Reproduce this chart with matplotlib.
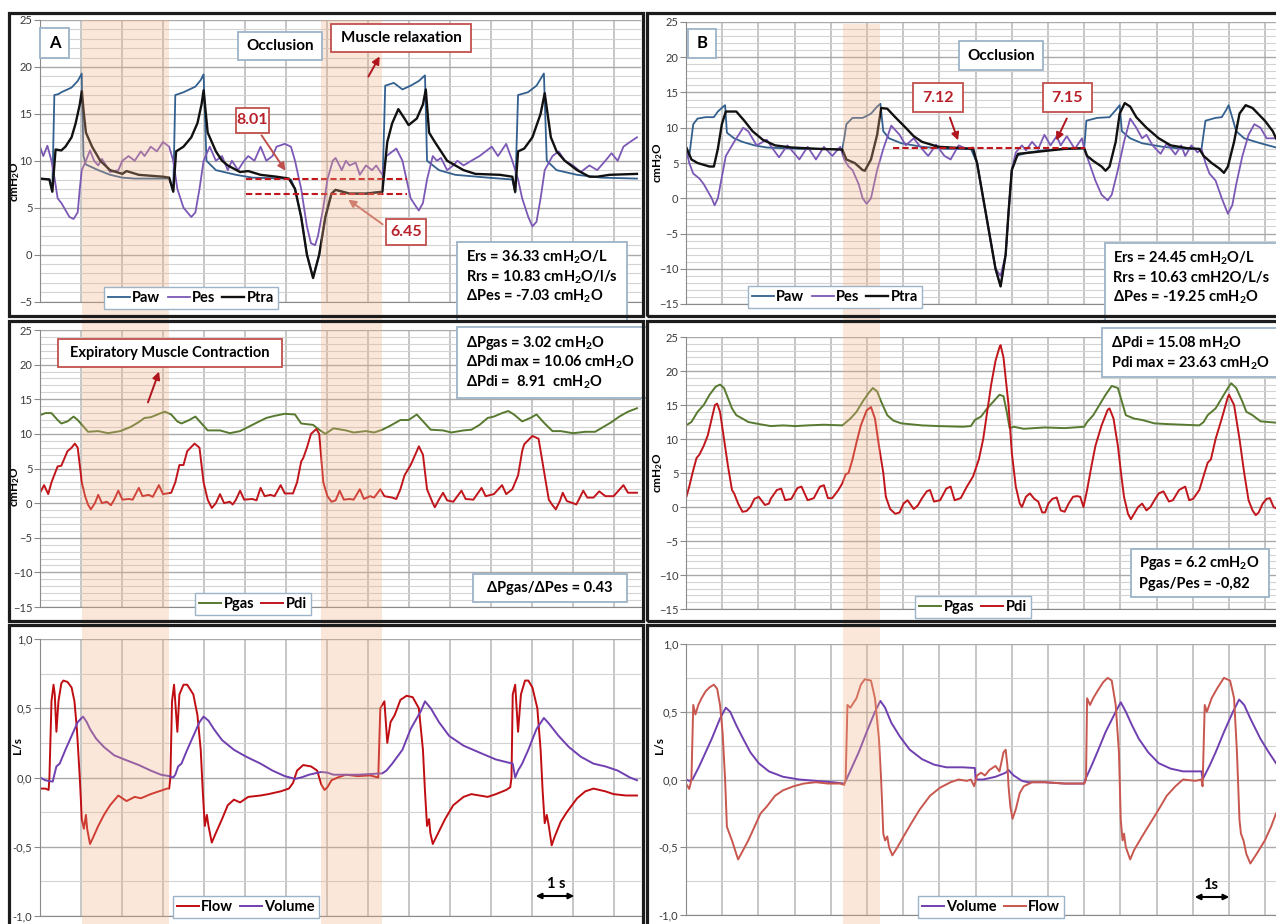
import numpy as np
import matplotlib
matplotlib.use("Agg")
import matplotlib.pyplot as plt
from matplotlib.patches import Rectangle, FancyArrowPatch
from matplotlib.ticker import MultipleLocator
from matplotlib.transforms import blended_transform_factory

plt.rcParams['font.family'] = ['Lato', 'DejaVu Sans']
plt.rcParams['mathtext.fontset'] = 'custom'
plt.rcParams['mathtext.rm'] = 'Lato:bold'
plt.rcParams['mathtext.bf'] = 'Lato:bold'
plt.rcParams['mathtext.it'] = 'Lato:bold'

# ---------------- data (time in s, pressure in cmH2O, flow in L/s) ----------------
# panel A, pressures
paw_a = [(0.00, 8.1), (0.23, 8.0), (0.30, 6.8), (0.35, 17.0), (0.45, 17.1), (0.52, 17.3), (0.77, 17.8),
         (0.92, 18.5), (1.02, 19.3), (1.06, 10.5), (1.12, 9.6), (1.42, 9.0), (1.71, 8.5), (2.01, 8.2),
         (2.31, 8.1), (3.15, 8.1), (3.20, 7.5), (3.25, 6.8), (3.30, 17.0), (3.50, 17.3), (3.79, 17.9),
         (3.92, 18.6), (3.99, 19.2), (4.06, 10.0), (4.29, 9.0), (4.78, 8.5), (5.18, 8.2), (5.97, 8.1),
         (6.12, 8.0), (6.22, 7.0), (6.37, 4.0), (6.51, 0.0), (6.66, -2.4), (6.81, 0.0), (6.96, 4.0),
         (7.11, 6.5), (7.21, 6.9), (7.55, 6.5), (7.95, 6.5), (8.35, 6.7), (8.42, 18.0), (8.63, 18.3),
         (8.84, 17.6), (9.04, 18.0), (9.24, 18.5), (9.39, 19.1), (9.44, 10.0), (9.73, 9.0), (10.13, 8.5),
         (10.92, 8.2), (11.52, 8.0), (11.59, 6.6), (11.66, 17.0), (11.90, 17.3), (12.11, 18.0),
         (12.29, 19.3), (12.36, 10.0), (12.60, 9.0), (13.10, 8.5), (13.69, 8.2), (14.56, 8.1)]

ptra_a = [(0.00, 8.1), (0.23, 8.0), (0.30, 6.7), (0.38, 11.2), (0.52, 11.1), (0.62, 11.5), (0.77, 12.5),
          (0.87, 14.0), (0.97, 16.0), (1.02, 17.4), (1.07, 15.0), (1.12, 13.0), (1.27, 11.5), (1.47, 10.0),
          (1.71, 9.0), (2.01, 8.6), (2.11, 8.9), (2.41, 8.5), (3.00, 8.3), (3.15, 8.2), (3.25, 6.7),
          (3.32, 11.0), (3.50, 11.5), (3.69, 12.5), (3.84, 14.0), (3.94, 16.0), (3.99, 17.5), (4.09, 13.0),
          (4.29, 11.0), (4.44, 10.0), (4.58, 9.5), (4.88, 8.8), (5.08, 8.9), (5.38, 8.5), (5.77, 8.3),
          (6.07, 8.1), (6.22, 7.0), (6.37, 4.0), (6.51, 0.0), (6.66, -2.5), (6.81, 0.0), (6.96, 4.0),
          (7.11, 6.5), (7.21, 6.9), (7.55, 6.5), (7.95, 6.5), (8.35, 6.7), (8.47, 12.0), (8.59, 14.0),
          (8.74, 15.5), (8.89, 14.5), (8.99, 13.8), (9.19, 14.5), (9.34, 16.0), (9.41, 17.6), (9.49, 13.0),
          (9.63, 12.0), (9.78, 11.0), (9.93, 10.0), (10.13, 9.5), (10.33, 9.0), (10.62, 8.6), (11.22, 8.5),
          (11.52, 8.3), (11.59, 6.7), (11.66, 11.0), (11.81, 11.3), (12.01, 12.5), (12.21, 15.0),
          (12.31, 17.2), (12.46, 12.5), (12.60, 11.0), (12.80, 10.0), (13.10, 9.0), (13.40, 8.3),
          (13.59, 8.3), (13.89, 8.5), (14.56, 8.6)]

pes_a = [(0.00, 11.5), (0.08, 10.5), (0.18, 11.6), (0.28, 10.0), (0.36, 8.0), (0.43, 6.0), (0.52, 5.5),
         (0.72, 4.0), (0.82, 3.8), (0.92, 4.5), (0.97, 7.0), (1.02, 9.0), (1.12, 10.0), (1.22, 11.1),
         (1.32, 10.0), (1.42, 9.5), (1.51, 10.2), (1.71, 8.8), (1.91, 9.0), (2.01, 10.0), (2.16, 10.5),
         (2.31, 10.0), (2.46, 11.0), (2.55, 10.5), (2.70, 11.5), (2.85, 11.0), (3.00, 12.0), (3.15, 11.5),
         (3.25, 10.0), (3.35, 7.0), (3.50, 5.0), (3.69, 4.0), (3.79, 4.5), (3.89, 7.0), (3.99, 10.0),
         (4.14, 11.5), (4.29, 10.0), (4.44, 10.5), (4.58, 9.0), (4.68, 10.0), (4.83, 9.0), (4.98, 10.0),
         (5.08, 10.5), (5.23, 10.0), (5.38, 11.5), (5.52, 10.0), (5.67, 10.5), (5.77, 11.5), (5.97, 11.8),
         (6.12, 11.5), (6.22, 10.0), (6.37, 7.0), (6.51, 3.0), (6.61, 1.2), (6.71, 1.0), (6.78, 2.0),
         (6.91, 5.0), (7.01, 8.0), (7.14, 10.0), (7.21, 10.3), (7.36, 9.0), (7.46, 10.0), (7.55, 9.5),
         (7.70, 9.8), (7.80, 8.5), (7.95, 9.5), (8.10, 9.0), (8.20, 9.5), (8.35, 8.5), (8.45, 10.5),
         (8.69, 11.3), (8.84, 10.0), (8.94, 8.0), (9.04, 6.0), (9.19, 5.0), (9.24, 4.7), (9.34, 5.5),
         (9.44, 8.0), (9.58, 10.5), (9.68, 10.0), (9.78, 10.3), (9.93, 9.0), (10.08, 9.5), (10.18, 10.0),
         (10.33, 9.5), (10.52, 10.0), (10.72, 10.5), (10.87, 11.0), (11.02, 11.5), (11.17, 10.5),
         (11.37, 11.8), (11.52, 10.0), (11.66, 8.0), (11.76, 6.0), (11.91, 4.0), (12.01, 3.0), (12.11, 3.5),
         (12.21, 6.0), (12.31, 9.0), (12.50, 10.5), (12.65, 11.0), (12.80, 10.0), (13.00, 9.5), (13.19, 8.8),
         (13.40, 9.5), (13.59, 9.0), (13.79, 10.0), (13.94, 10.8), (14.09, 10.0), (14.23, 11.5),
         (14.39, 12.0), (14.56, 12.5)]

pgas_a = [(0.00, 12.7), (0.13, 13.0), (0.28, 13.0), (0.43, 12.0), (0.52, 11.5), (0.67, 11.8), (0.82, 12.5),
          (0.92, 12.0), (1.07, 11.0), (1.17, 10.3), (1.42, 10.4), (1.66, 10.1), (1.96, 10.4), (2.21, 11.0),
          (2.41, 11.7), (2.55, 12.3), (2.70, 12.4), (2.95, 13.0), (3.05, 13.2), (3.20, 12.8), (3.35, 11.8),
          (3.45, 11.5), (3.64, 12.0), (3.79, 12.5), (3.94, 11.5), (4.09, 10.5), (4.39, 10.5), (4.63, 10.1),
          (4.88, 10.4), (5.08, 11.0), (5.28, 11.6), (5.52, 12.3), (5.72, 12.6), (5.97, 12.9), (6.22, 12.8),
          (6.37, 11.5), (6.66, 11.3), (6.81, 10.6), (6.96, 10.0), (7.16, 10.8), (7.46, 10.5), (7.65, 10.2),
          (7.95, 10.4), (8.15, 10.2), (8.35, 10.6), (8.55, 11.2), (8.79, 12.0), (8.99, 12.0), (9.19, 12.8),
          (9.39, 11.5), (9.53, 10.6), (9.83, 10.5), (10.03, 10.2), (10.33, 10.5), (10.52, 10.6),
          (10.72, 11.3), (10.92, 12.3), (11.07, 12.5), (11.27, 13.0), (11.42, 13.3), (11.56, 12.8),
          (11.76, 11.8), (11.96, 12.3), (12.11, 12.8), (12.31, 11.5), (12.50, 10.4), (12.70, 10.4),
          (13.00, 10.1), (13.30, 10.3), (13.54, 10.3), (13.74, 11.0), (13.94, 11.7), (14.13, 12.5),
          (14.34, 13.2), (14.56, 13.7)]

pdi_a = [(0.00, 1.5), (0.10, 2.6), (0.20, 1.3), (0.28, 3.0), (0.43, 5.3), (0.52, 5.4), (0.67, 7.5),
         (0.77, 8.0), (0.85, 8.6), (0.92, 8.0), (1.02, 3.0), (1.10, 1.0), (1.17, -0.2), (1.24, -0.9),
         (1.34, 0.0), (1.42, 1.2), (1.51, 0.0), (1.63, 0.2), (1.73, -0.3), (1.81, 0.5), (1.91, 1.8),
         (2.01, 0.5), (2.16, 0.6), (2.26, 0.5), (2.41, 2.2), (2.50, 1.0), (2.65, 1.2), (2.75, 0.9),
         (2.90, 2.6), (3.00, 1.3), (3.20, 1.5), (3.30, 3.0), (3.40, 5.5), (3.50, 5.5), (3.59, 7.5),
         (3.77, 8.6), (3.89, 8.0), (3.99, 3.0), (4.09, 0.5), (4.19, -0.7), (4.29, 0.0), (4.39, 1.3),
         (4.49, 0.0), (4.63, 0.2), (4.70, -0.2), (4.78, 0.5), (4.88, 1.8), (4.98, 0.5), (5.18, 0.6),
         (5.28, 0.4), (5.38, 2.2), (5.48, 1.0), (5.62, 1.2), (5.72, 1.0), (5.87, 2.6), (5.97, 1.4),
         (6.17, 1.4), (6.27, 3.0), (6.37, 6.0), (6.42, 6.5), (6.51, 8.0), (6.61, 10.0), (6.74, 10.7),
         (6.81, 10.0), (6.91, 3.0), (7.01, 1.0), (7.11, 0.2), (7.21, 0.4), (7.31, 1.8), (7.41, 0.5),
         (7.55, 0.6), (7.65, 0.5), (7.80, 2.0), (7.90, 0.6), (8.05, 1.0), (8.15, 0.8), (8.30, 2.0),
         (8.40, 1.0), (8.59, 0.8), (8.69, 0.6), (8.79, 2.0), (8.89, 4.0), (9.04, 5.5), (9.19, 7.5),
         (9.24, 8.2), (9.34, 7.0), (9.44, 2.0), (9.58, 0.0), (9.63, -0.6), (9.73, 0.5), (9.83, 1.5),
         (9.93, 0.4), (10.08, 0.2), (10.28, 1.8), (10.38, 0.6), (10.57, 0.5), (10.77, 2.2), (10.87, 1.0),
         (11.07, 1.3), (11.27, 2.6), (11.37, 1.3), (11.52, 2.0), (11.66, 4.0), (11.76, 7.5), (11.81, 8.5),
         (12.01, 9.7), (12.16, 9.3), (12.31, 4.0), (12.41, 0.5), (12.50, -0.3), (12.58, -0.9), (12.68, 0.3),
         (12.75, 1.5), (12.85, 0.3), (13.00, 0.0), (13.08, -0.2), (13.15, 0.6), (13.25, 1.8), (13.35, 0.8),
         (13.50, 0.8), (13.64, 1.7), (13.79, 1.0), (13.99, 1.0), (14.23, 2.6), (14.34, 1.5), (14.56, 1.5)]

flow_a = [(0.00, -0.08), (0.13, -0.08), (0.21, -0.09), (0.23, 0.0), (0.28, 0.55), (0.33, 0.67), (0.36, 0.60),
          (0.40, 0.33), (0.45, 0.55), (0.52, 0.68), (0.57, 0.70), (0.67, 0.69), (0.77, 0.65), (0.84, 0.55),
          (0.90, 0.35), (0.97, 0.0), (1.02, -0.30), (1.07, -0.37), (1.12, -0.27), (1.15, -0.37), (1.22, -0.48),
          (1.30, -0.43), (1.42, -0.35), (1.56, -0.27), (1.71, -0.20), (1.91, -0.13), (2.11, -0.17),
          (2.31, -0.14), (2.46, -0.15), (2.70, -0.12), (2.90, -0.10), (3.10, -0.08), (3.15, -0.08),
          (3.18, 0.0), (3.22, 0.55), (3.27, 0.67), (3.35, 0.33), (3.40, 0.60), (3.50, 0.67), (3.59, 0.67),
          (3.74, 0.60), (3.84, 0.45), (3.92, 0.20), (3.97, -0.10), (4.02, -0.35), (4.07, -0.27),
          (4.11, -0.35), (4.19, -0.47), (4.29, -0.40), (4.44, -0.30), (4.58, -0.20), (4.73, -0.16),
          (4.88, -0.18), (5.08, -0.14), (5.38, -0.13), (5.57, -0.12), (5.87, -0.10), (6.07, -0.08),
          (6.17, -0.04), (6.27, 0.05), (6.42, 0.09), (6.61, 0.08), (6.76, 0.05), (6.86, -0.05),
          (6.94, -0.09), (7.01, -0.07), (7.11, -0.02), (7.26, 0.0), (7.46, 0.02), (7.75, 0.01),
          (8.05, 0.015), (8.25, 0.0), (8.30, 0.50), (8.40, 0.55), (8.47, 0.25), (8.55, 0.40), (8.65, 0.45),
          (8.79, 0.56), (8.94, 0.59), (9.09, 0.58), (9.24, 0.50), (9.34, 0.20), (9.39, -0.10), (9.44, -0.35),
          (9.49, -0.30), (9.52, -0.40), (9.58, -0.48), (9.68, -0.42), (9.88, -0.30), (10.08, -0.20),
          (10.33, -0.14), (10.52, -0.12), (10.72, -0.13), (10.92, -0.14), (11.12, -0.12), (11.37, -0.09),
          (11.47, -0.07), (11.50, 0.0), (11.53, 0.60), (11.59, 0.67), (11.66, 0.33), (11.73, 0.60),
          (11.83, 0.70), (11.91, 0.70), (12.01, 0.65), (12.13, 0.50), (12.21, 0.20), (12.26, -0.10),
          (12.31, -0.33), (12.36, -0.27), (12.41, -0.35), (12.48, -0.49), (12.55, -0.43), (12.70, -0.32),
          (12.85, -0.25), (13.10, -0.15), (13.30, -0.10), (13.50, -0.08), (13.79, -0.10), (13.99, -0.12),
          (14.29, -0.13), (14.56, -0.13)]

volume_a = [(0.00, 0.0), (0.13, -0.02), (0.31, -0.03), (0.35, 0.02), (0.40, 0.08), (0.48, 0.10), (0.62, 0.20),
            (0.77, 0.30), (0.92, 0.40), (1.05, 0.44), (1.14, 0.40), (1.22, 0.35), (1.37, 0.28), (1.56, 0.22),
            (1.81, 0.16), (2.06, 0.13), (2.41, 0.09), (2.70, 0.05), (2.95, 0.02), (3.15, 0.01), (3.25, 0.0),
            (3.30, 0.02), (3.37, 0.08), (3.45, 0.10), (3.59, 0.20), (3.74, 0.30), (3.89, 0.40), (3.99, 0.44),
            (4.11, 0.41), (4.24, 0.35), (4.44, 0.27), (4.73, 0.20), (5.03, 0.15), (5.38, 0.10), (5.67, 0.05),
            (5.97, 0.01), (6.22, -0.01), (6.37, 0.0), (6.56, 0.02), (6.86, 0.04), (7.01, 0.035), (7.16, 0.02),
            (7.75, 0.02), (8.35, 0.03), (8.45, 0.05), (8.59, 0.10), (8.84, 0.20), (9.04, 0.35), (9.29, 0.48),
            (9.39, 0.55), (9.53, 0.50), (9.73, 0.40), (9.98, 0.30), (10.33, 0.23), (10.72, 0.18),
            (11.12, 0.13), (11.53, 0.10), (11.59, 0.0), (11.66, 0.05), (11.76, 0.10), (11.91, 0.20),
            (12.11, 0.35), (12.29, 0.43), (12.41, 0.39), (12.65, 0.30), (12.90, 0.22), (13.19, 0.15),
            (13.50, 0.10), (13.79, 0.08), (14.09, 0.05), (14.39, 0.0), (14.56, -0.02)]

# panel B, pressures
paw_b = [(0.00, 7.2), (0.09, 6.0), (0.20, 10.5), (0.32, 11.3), (0.54, 11.5), (0.77, 11.5), (0.88, 12.3),
         (1.03, 13.0), (1.08, 13.2), (1.13, 9.3), (1.33, 8.5), (1.56, 8.0), (1.89, 7.5), (2.23, 7.2),
         (3.13, 7.0), (4.32, 7.0), (4.37, 8.5), (4.43, 10.5), (4.60, 11.4), (4.88, 11.4), (5.11, 12.0),
         (5.28, 13.0), (5.37, 13.4), (5.45, 9.5), (5.61, 8.5), (5.95, 7.8), (6.52, 7.3), (7.19, 7.0),
         (7.87, 7.0), (8.04, 5.0), (8.21, 0.0), (8.38, -5.0), (8.55, -10.0), (8.69, -12.5), (8.83, -8.0),
         (8.91, -2.0), (9.00, 4.0), (9.11, 6.0), (9.45, 6.5), (9.90, 6.8), (10.35, 7.0), (11.00, 7.1),
         (11.06, 11.0), (11.36, 11.4), (11.70, 11.5), (11.87, 12.5), (11.98, 13.2), (12.04, 9.5),
         (12.27, 8.5), (12.60, 7.8), (13.17, 7.3), (13.73, 7.0), (14.24, 7.0), (14.35, 11.0), (14.63, 11.4),
         (14.80, 11.5), (14.92, 12.5), (14.99, 13.2), (15.20, 9.5), (15.42, 8.5), (15.87, 7.8), (16.30, 7.2)]

ptra_b = [(0.00, 7.3), (0.15, 5.5), (0.32, 5.0), (0.65, 4.5), (0.77, 4.5), (0.88, 7.0), (0.99, 10.5),
          (1.10, 12.3), (1.39, 12.3), (1.61, 11.0), (1.84, 9.5), (2.12, 8.3), (2.46, 7.5), (2.91, 7.2),
          (3.70, 7.0), (4.32, 6.9), (4.43, 5.5), (4.66, 5.0), (4.88, 4.0), (4.94, 3.9), (5.11, 5.5),
          (5.28, 9.0), (5.39, 12.8), (5.56, 12.7), (5.78, 11.5), (6.07, 10.0), (6.29, 8.8), (6.52, 8.0),
          (6.97, 7.3), (7.64, 7.1), (7.93, 7.0), (8.04, 5.0), (8.21, 0.0), (8.38, -5.0), (8.55, -10.0),
          (8.69, -12.5), (8.83, -8.0), (8.91, -2.0), (9.00, 4.0), (9.17, 6.3), (9.56, 6.5), (9.90, 6.7),
          (10.46, 7.0), (11.00, 7.1), (11.08, 6.0), (11.25, 5.3), (11.48, 4.5), (11.59, 3.9), (11.70, 4.5),
          (11.87, 8.0), (11.98, 12.0), (12.12, 13.5), (12.27, 13.0), (12.44, 11.5), (12.72, 10.0),
          (13.06, 8.5), (13.39, 7.5), (13.85, 7.1), (14.18, 7.0), (14.30, 6.0), (14.52, 5.0), (14.74, 4.2),
          (14.86, 3.6), (14.97, 4.5), (15.14, 8.0), (15.29, 12.0), (15.46, 13.2), (15.65, 12.8),
          (15.99, 11.0), (16.21, 9.5), (16.30, 8.5)]

pes_b = [(0.00, 7.0), (0.09, 5.0), (0.20, 3.5), (0.37, 2.8), (0.49, 2.0), (0.71, 0.0), (0.79, -1.0),
         (0.88, 0.0), (0.99, 3.0), (1.10, 6.0), (1.33, 8.0), (1.58, 10.0), (1.72, 9.5), (1.95, 7.5),
         (2.23, 8.3), (2.40, 7.0), (2.57, 5.8), (2.80, 7.5), (2.97, 6.5), (3.13, 5.5), (3.36, 7.3),
         (3.59, 5.5), (3.81, 7.3), (4.04, 6.0), (4.26, 7.3), (4.37, 5.5), (4.49, 4.5), (4.60, 4.0),
         (4.77, 2.0), (4.88, 0.0), (4.99, -0.8), (5.11, 0.0), (5.28, 4.0), (5.45, 7.0), (5.67, 10.3),
         (5.90, 9.0), (6.07, 7.5), (6.29, 8.5), (6.52, 7.0), (6.69, 6.0), (6.91, 7.6), (7.14, 6.0),
         (7.31, 5.5), (7.53, 7.5), (7.76, 7.0), (7.93, 7.2), (8.04, 5.0), (8.21, 0.0), (8.38, -5.0),
         (8.55, -10.0), (8.69, -11.0), (8.83, -8.0), (8.91, -2.0), (9.00, 4.0), (9.11, 6.5), (9.28, 7.5),
         (9.39, 6.8), (9.56, 8.0), (9.73, 7.0), (9.90, 9.0), (10.07, 7.5), (10.24, 8.8), (10.35, 7.5),
         (10.52, 8.8), (10.74, 7.0), (10.94, 8.5), (11.00, 7.0), (11.14, 5.0), (11.31, 2.5), (11.48, 0.5),
         (11.65, -0.3), (11.76, 0.5), (11.93, 4.0), (12.10, 8.0), (12.27, 11.3), (12.44, 10.0),
         (12.60, 8.5), (12.72, 9.0), (12.89, 7.5), (13.11, 6.3), (13.28, 7.8), (13.52, 6.2), (13.68, 7.5),
         (13.79, 6.0), (13.96, 7.5), (14.13, 6.5), (14.24, 7.0), (14.35, 5.0), (14.46, 3.5), (14.63, 2.5),
         (14.80, 0.0), (14.97, -2.2), (15.09, -1.0), (15.20, 2.0), (15.37, 6.0), (15.54, 9.0),
         (15.70, 10.5), (15.87, 10.0), (16.04, 8.5), (16.30, 8.5)]

pgas_b = [(0.00, 12.0), (0.15, 12.5), (0.32, 14.0), (0.49, 15.0), (0.65, 16.5), (0.82, 17.7), (0.94, 18.0),
          (1.05, 17.5), (1.16, 16.0), (1.27, 14.5), (1.39, 13.5), (1.56, 13.0), (1.72, 12.5), (2.01, 12.2),
          (2.34, 11.9), (2.68, 12.0), (3.02, 11.9), (3.36, 12.0), (3.81, 12.1), (4.32, 12.0), (4.43, 12.5),
          (4.54, 13.0), (4.71, 14.0), (4.88, 15.5), (5.05, 16.8), (5.16, 17.5), (5.28, 17.0), (5.39, 15.5),
          (5.56, 13.5), (5.73, 12.7), (5.95, 12.3), (6.52, 12.0), (6.97, 11.9), (7.64, 11.8), (7.87, 11.9),
          (7.98, 12.8), (8.15, 13.3), (8.32, 14.5), (8.49, 15.5), (8.66, 16.5), (8.77, 16.3), (8.86, 14.0),
          (8.94, 11.6), (9.05, 11.8), (9.33, 11.5), (9.90, 11.7), (10.46, 11.6), (11.00, 11.8),
          (11.08, 12.5), (11.25, 13.5), (11.42, 15.0), (11.59, 16.5), (11.76, 17.8), (11.93, 17.5),
          (12.04, 15.5), (12.15, 13.5), (12.38, 13.0), (12.60, 12.8), (12.94, 12.3), (13.28, 12.2),
          (13.73, 12.1), (14.18, 12.0), (14.30, 12.5), (14.41, 13.5), (14.63, 14.5), (14.80, 16.0),
          (14.97, 17.5), (15.06, 18.2), (15.20, 17.5), (15.37, 15.5), (15.48, 14.0), (15.65, 13.5),
          (15.87, 12.6), (16.30, 12.4)]

pdi_b = [(0.00, 1.3), (0.09, 3.0), (0.18, 5.0), (0.29, 7.2), (0.37, 7.7), (0.49, 9.0), (0.60, 10.5),
         (0.71, 13.0), (0.80, 15.0), (0.86, 15.2), (0.94, 14.0), (1.05, 10.0), (1.16, 6.0), (1.27, 2.5),
         (1.33, 2.0), (1.44, 0.5), (1.56, -0.7), (1.67, -0.6), (1.78, 0.0), (1.89, 1.2), (2.01, 1.5),
         (2.18, 0.3), (2.29, 0.5), (2.34, 1.2), (2.51, 2.5), (2.63, 2.7), (2.74, 1.0), (2.91, 1.2),
         (3.08, 2.8), (3.19, 3.0), (3.36, 1.0), (3.53, 1.3), (3.70, 3.0), (3.81, 3.2), (3.92, 1.3),
         (4.04, 1.3), (4.21, 2.5), (4.32, 3.5), (4.41, 4.8), (4.49, 5.0), (4.60, 7.0), (4.71, 9.5),
         (4.83, 12.0), (4.99, 14.2), (5.11, 14.7), (5.22, 13.0), (5.33, 9.0), (5.45, 5.0), (5.52, 1.5),
         (5.64, -0.3), (5.78, -1.0), (5.90, -0.8), (6.01, 0.5), (6.12, 1.0), (6.29, -0.3), (6.40, 0.2),
         (6.52, 1.3), (6.65, 2.3), (6.74, 2.5), (6.85, 0.8), (7.02, 1.0), (7.19, 2.7), (7.31, 3.0),
         (7.42, 1.0), (7.59, 1.3), (7.76, 3.0), (7.93, 4.5), (8.09, 7.0), (8.21, 10.0), (8.32, 14.0),
         (8.43, 18.0), (8.55, 21.5), (8.66, 23.5), (8.69, 23.8), (8.77, 22.0), (8.91, 15.0), (9.00, 8.0),
         (9.11, 3.0), (9.22, 0.5), (9.28, 0.0), (9.39, 1.5), (9.50, 2.0), (9.62, 1.2), (9.73, 0.8),
         (9.84, -0.8), (9.92, -0.8), (10.01, 0.5), (10.12, 1.2), (10.24, 1.4), (10.35, -0.5), (10.46, -0.7),
         (10.57, 0.5), (10.69, 1.5), (10.80, 1.6), (10.89, 1.5), (10.98, 0.0), (11.08, 2.5), (11.20, 6.0),
         (11.31, 9.0), (11.48, 12.0), (11.65, 14.3), (11.70, 14.5), (11.81, 13.0), (11.93, 9.0),
         (12.04, 4.0), (12.10, 1.5), (12.21, -1.0), (12.29, -1.8), (12.38, -1.0), (12.49, 0.0),
         (12.60, 0.5), (12.72, -0.5), (12.83, 0.0), (12.94, 1.0), (13.06, 2.0), (13.19, 2.3), (13.34, 0.8),
         (13.45, 1.0), (13.62, 2.5), (13.79, 3.0), (13.90, 1.0), (14.01, 1.2), (14.18, 2.5), (14.41, 6.5),
         (14.50, 7.0), (14.63, 10.0), (14.80, 13.0), (14.97, 16.2), (15.00, 16.5), (15.14, 15.0),
         (15.29, 10.0), (15.42, 5.0), (15.54, 1.0), (15.65, -0.5), (15.74, -1.2), (15.82, -0.8),
         (15.93, 0.5), (16.04, 1.2), (16.13, 1.3), (16.23, 0.0), (16.30, -0.2)]

volume_b = [(0.00, 0.0), (0.09, -0.01), (0.18, 0.0), (0.37, 0.10), (0.54, 0.20), (0.71, 0.30), (0.94, 0.45),
            (1.10, 0.53), (1.22, 0.50), (1.39, 0.40), (1.58, 0.30), (1.78, 0.20), (2.01, 0.12), (2.29, 0.06),
            (2.68, 0.02), (3.13, 0.0), (3.59, -0.01), (4.04, -0.02), (4.37, -0.03), (4.43, 0.0), (4.60, 0.10),
            (4.77, 0.20), (4.99, 0.35), (5.22, 0.50), (5.37, 0.58), (5.50, 0.53), (5.67, 0.42), (5.90, 0.32),
            (6.18, 0.22), (6.52, 0.15), (6.85, 0.11), (7.19, 0.09), (7.64, 0.09), (7.98, 0.085), (8.00, 0.0),
            (8.21, 0.0), (8.55, 0.02), (8.83, 0.05), (8.91, 0.07), (9.05, 0.03), (9.28, -0.01), (9.45, -0.02),
            (9.90, -0.02), (10.46, -0.03), (11.00, -0.03), (11.03, 0.0), (11.20, 0.10), (11.36, 0.20),
            (11.59, 0.35), (11.87, 0.50), (12.01, 0.57), (12.15, 0.50), (12.32, 0.40), (12.51, 0.30),
            (12.77, 0.20), (13.06, 0.12), (13.39, 0.08), (13.73, 0.06), (14.24, 0.06), (14.27, 0.0),
            (14.46, 0.10), (14.63, 0.20), (14.86, 0.35), (15.11, 0.50), (15.28, 0.59), (15.42, 0.55),
            (15.59, 0.45), (15.87, 0.30), (16.10, 0.20), (16.30, 0.12)]

flow_b = [(0.00, -0.03), (0.09, -0.07), (0.15, 0.0), (0.20, 0.55), (0.26, 0.48), (0.34, 0.55), (0.43, 0.60),
          (0.54, 0.65), (0.65, 0.68), (0.77, 0.70), (0.86, 0.67), (0.94, 0.55), (1.01, 0.35), (1.08, 0.0),
          (1.13, -0.35), (1.20, -0.40), (1.27, -0.45), (1.39, -0.55), (1.44, -0.59), (1.56, -0.53),
          (1.72, -0.45), (1.89, -0.35), (2.06, -0.25), (2.23, -0.20), (2.46, -0.12), (2.68, -0.08),
          (2.97, -0.05), (3.25, -0.03), (3.59, -0.02), (3.92, -0.03), (4.26, -0.03), (4.37, -0.04),
          (4.41, 0.0), (4.46, 0.55), (4.54, 0.53), (4.71, 0.60), (4.83, 0.70), (4.94, 0.74), (5.11, 0.73),
          (5.22, 0.60), (5.33, 0.30), (5.39, 0.0), (5.45, -0.40), (5.50, -0.45), (5.56, -0.42), (5.61, -0.50),
          (5.70, -0.56), (5.84, -0.50), (6.01, -0.42), (6.23, -0.32), (6.46, -0.22), (6.74, -0.12),
          (7.02, -0.06), (7.31, -0.02), (7.53, 0.0), (7.76, -0.01), (7.87, 0.0), (7.96, -0.05), (8.04, 0.03),
          (8.15, 0.05), (8.26, 0.03), (8.38, 0.07), (8.55, 0.10), (8.66, 0.06), (8.77, 0.20), (8.83, 0.22),
          (8.88, 0.10), (8.91, -0.05), (8.96, -0.20), (9.02, -0.29), (9.11, -0.22), (9.22, -0.10),
          (9.33, -0.05), (9.56, -0.02), (9.90, -0.02), (10.46, -0.03), (11.00, -0.03), (11.05, 0.0),
          (11.08, 0.60), (11.16, 0.55), (11.25, 0.60), (11.36, 0.65), (11.53, 0.72), (11.65, 0.75),
          (11.76, 0.73), (11.87, 0.55), (11.96, 0.20), (12.01, -0.30), (12.06, -0.45), (12.10, -0.40),
          (12.15, -0.50), (12.27, -0.59), (12.38, -0.52), (12.60, -0.42), (12.83, -0.32), (13.06, -0.22),
          (13.28, -0.12), (13.52, -0.05), (13.73, 0.0), (14.07, -0.01), (14.24, 0.0), (14.27, -0.05),
          (14.33, 0.55), (14.39, 0.50), (14.52, 0.60), (14.69, 0.68), (14.86, 0.75), (15.03, 0.73),
          (15.14, 0.60), (15.22, 0.20), (15.29, -0.30), (15.33, -0.40), (15.40, -0.45), (15.48, -0.55),
          (15.59, -0.62), (15.76, -0.55), (15.99, -0.45), (16.16, -0.35), (16.30, -0.25)]

# shaded occlusion windows (s) and reference levels (value, t_start, t_end)
bands_a = [(1.02, 3.15), (6.86, 8.35)]
bands_b = [(4.35, 5.37)]
levels_a = [(8.01, 5.03, 8.94), (6.45, 5.03, 8.94)]
levels_b = [(7.12, 5.73, 11.03)]

flow_ticks = [-1.0, -0.5, 0.0, 0.5, 1.0]
flow_ticklabels = ['-1,0', '-0,5', '0,0', '0,5', '1,0']

C_PAW = '#33608f'
C_PES = '#7c58b6'
C_PTRA = '#111111'
C_PGAS = '#587a30'
C_PDI = '#c0161c'
C_FLOW_A = '#c00d12'
C_FLOW_B = '#c8574f'
C_VOL = '#7040b0'
C_BOX = '#9db3c8'
C_RED = '#b8202a'
C_BAND = '#f4b183'

# ---------------- figure ----------------
W, H = 1276, 924
fig = plt.figure(figsize=(W / 100, H / 100), dpi=100)


def rect(x0, y0, x1, y1):
    return [x0 / W, 1 - y1 / H, (x1 - x0) / W, (y1 - y0) / H]


def pt(x, y):
    return (x / W, 1 - y / H)


def make_axes(x0, y0, x1, y1, xmax, ylim, major, minor):
    ax = fig.add_axes(rect(x0, y0, x1, y1))
    ax.set_facecolor('none')
    ax.set_xlim(0, xmax)
    ax.set_ylim(*ylim)
    ax.xaxis.set_major_locator(MultipleLocator(1))
    ax.yaxis.set_major_locator(MultipleLocator(major))
    ax.yaxis.set_minor_locator(MultipleLocator(minor))
    ax.grid(True, which='major', axis='x', color='#c2c2c2', lw=1.3)
    ax.grid(True, which='major', axis='y', color='#a9a9a9', lw=1.0)
    ax.grid(True, which='minor', axis='y', color='#d3d3d3', lw=0.8)
    ax.tick_params(axis='x', length=0, labelbottom=False)
    ax.tick_params(axis='y', which='major', length=4, color='#8a8a8a', labelsize=8,
                   labelcolor='#3a3a3a', pad=1.5)
    ax.tick_params(axis='y', which='minor', length=0)
    for s in ['top', 'right']:
        ax.spines[s].set_visible(False)
    for s in ['left', 'bottom']:
        ax.spines[s].set_color('#8a8a8a')
    ax.set_axisbelow(True)
    return ax


def trace(ax, data, color, lw=1.4, label=None):
    d = np.array(data)
    return ax.plot(d[:, 0], d[:, 1], color=color, lw=lw, label=label, solid_joinstyle='round')[0]


def box(x0, y0, x1, y1, ec=C_BOX, lw=1.3):
    fig.add_artist(Rectangle(pt(x0, y1), (x1 - x0) / W, (y1 - y0) / H, transform=fig.transFigure,
                             fc='white', ec=ec, lw=lw, zorder=3))


def txt(x, y, s, size=10.5, color='black', ha='left', **kw):
    fig.text(*pt(x, y), s, fontsize=size, color=color, ha=ha, va='center', weight='bold', zorder=4, **kw)


def arrow(p0, p1, color=C_RED, style='-|>', lw=1.4, ms=11):
    fig.add_artist(FancyArrowPatch(pt(*p0), pt(*p1), transform=fig.transFigure, arrowstyle=style,
                                   mutation_scale=ms, color=color, lw=lw, zorder=5))


def legend(handles, cx, cy):
    fig.legend(handles=handles, labels=[h.get_label() for h in handles], loc='center',
               bbox_to_anchor=pt(cx, cy), ncol=len(handles), frameon=True, fancybox=False,
               edgecolor=C_BOX, framealpha=1, handlelength=1.5, handletextpad=0.15,
               columnspacing=0.5, borderpad=0.3, prop={'weight': 'bold', 'size': 10.5})


def bands(ax, spans, ytop):
    tr = blended_transform_factory(ax.transData, fig.transFigure)
    for t0, t1 in spans:
        fig.add_artist(Rectangle((t0, 0), t1 - t0, 1 - ytop / H, transform=tr, fc=C_BAND,
                                 ec='none', alpha=0.3, zorder=1))


XA = (641 - 40) / 41.0
XB = (1276 - 686) / 36.2

# ---- column A ----
a1 = make_axes(40, 20, 641, 301.5, XA, (-5, 25), 5, 1)
a2 = make_axes(40, 330, 641, 607, XA, (-15, 25), 5, 1)
a3 = make_axes(40, 639, 641, 916, XA, (-1, 1), 0.5, 0.25)
h_paw = trace(a1, paw_a, C_PAW, 1.3, 'Paw')
h_pes = trace(a1, pes_a, C_PES, 1.3, 'Pes')
h_ptra = trace(a1, ptra_a, C_PTRA, 1.7, 'Ptra')
for v, t0, t1 in levels_a:
    a1.plot([t0, t1], [v, v], color=C_PDI, lw=1.5, ls=(0, (3, 1.5)))
h_pgas = trace(a2, pgas_a, C_PGAS, 1.4, 'Pgas')
h_pdi = trace(a2, pdi_a, C_PDI, 1.4, 'Pdi')
h_flow = trace(a3, flow_a, C_FLOW_A, 1.4, 'Flow')
h_vol = trace(a3, volume_a, C_VOL, 1.4, 'Volume')
a3.set_yticks(flow_ticks)
a3.set_yticklabels(flow_ticklabels)
bands(a1, bands_a, 20)

legend([h_paw, h_pes, h_ptra], 191, 298)
legend([h_pgas, h_pdi], 253, 604)
legend([h_flow, h_vol], 246, 907)

# ---- column B ----
b1 = make_axes(686, 22, 1276, 304, XB, (-15, 25), 5, 1)
b2 = make_axes(686, 337, 1276, 609, XB, (-15, 25), 5, 1)
b3 = make_axes(686, 644, 1276, 915, XB, (-1, 1), 0.5, 0.25)
g_paw = trace(b1, paw_b, C_PAW, 1.3, 'Paw')
g_pes = trace(b1, pes_b, C_PES, 1.3, 'Pes')
g_ptra = trace(b1, ptra_b, C_PTRA, 1.7, 'Ptra')
for v, t0, t1 in levels_b:
    b1.plot([t0, t1], [v, v], color=C_PDI, lw=1.5, ls=(0, (3, 1.5)))
g_pgas = trace(b2, pgas_b, C_PGAS, 1.4, 'Pgas')
g_pdi = trace(b2, pdi_b, C_PDI, 1.4, 'Pdi')
g_vol = trace(b3, volume_b, C_VOL, 1.4, 'Volume')
g_flow = trace(b3, flow_b, C_FLOW_B, 1.4, 'Flow')
b3.set_yticks(flow_ticks)
b3.set_yticklabels(flow_ticklabels)
bands(b1, bands_b, 24)

legend([g_paw, g_pes, g_ptra], 835, 297)
legend([g_pgas, g_pdi], 973, 607)
legend([g_vol, g_flow], 991, 907)

# ---- y labels ----
for x, y, s in [(15, 182, 'cmH$_2$O'), (15, 487, 'cmH$_2$O'), (18, 745, 'L/s'),
                (658, 163, 'cmH$_2$O'), (658, 473, 'cmH$_2$O'), (660, 745, 'L/s')]:
    fig.text(*pt(x, y), s, rotation=90, ha='center', va='center', fontsize=8.5, weight='bold')

# ---- annotation boxes, panel A ----
box(40, 28, 69, 58)
txt(54.5, 43, 'A', 12, ha='center')
box(238, 32, 322, 60)
txt(280, 46, 'Occlusion', 11, ha='center')
box(331, 24, 471, 52, ec='#c0504d')
txt(401, 38, 'Muscle relaxation', 11, ha='center')
arrow((367, 79), (381, 54), color='#b0141c')
box(236, 108, 269, 133, ec='#c0504d')
txt(252.5, 120.5, '8.01', 11.5, C_RED, ha='center')
arrow((260, 133), (287, 173), color='#c0504d')
box(386, 219, 426, 245, ec='#c0504d')
txt(406, 232, '6.45', 11.5, C_RED, ha='center')
arrow((385, 226), (346, 198), color='#d0806f')
box(457, 242, 627, 322)
txt(466, 257, 'Ers = 36.33 cmH$_2$O/L')
txt(466, 277, 'Rrs = 10.83 cmH$_2$O/l/s')
txt(466, 296, 'ΔPes = -7.03 cmH$_2$O')

box(58, 339, 282, 367, ec='#c0504d')
txt(170, 353, 'Expiratory Muscle Contraction', 10.5, ha='center')
arrow((147, 405), (160, 369), color='#b0141c')
box(457, 327, 648, 398)
txt(466, 343, 'ΔPgas = 3.02 cmH$_2$O')
txt(466, 362, 'ΔPdi max = 10.06 cmH$_2$O')
txt(466, 382, 'ΔPdi =  8.91  cmH$_2$O')
box(473, 574, 627, 602)
txt(550, 588, 'ΔPgas/ΔPes = 0.43', ha='center')

txt(556, 884, '1 s', 10.5, ha='center')
arrow((533, 896), (577, 896), color='black', style='<|-|>', lw=1.5, ms=8)

# ---- annotation boxes, panel B ----
box(688, 29, 716, 58)
txt(702, 43.5, 'B', 12, ha='center')
box(959, 41, 1043, 70)
txt(1001, 55.5, 'Occlusion', 11, ha='center')
box(913, 83, 963, 112, ec='#c0504d')
txt(938, 97.5, '7.12', 11.5, C_RED, ha='center')
arrow((949, 115), (959, 143), color='#b0141c')
box(1043, 83, 1092, 112, ec='#c0504d')
txt(1067.5, 97.5, '7.15', 11.5, C_RED, ha='center')
arrow((1068, 116), (1055, 143), color='#b0141c')
box(1105, 243, 1290, 322)
txt(1113, 258, 'Ers = 24.45 cmH$_2$O/L')
txt(1113, 278, 'Rrs = 10.63 cmH2O/L/s')
txt(1113, 297, 'ΔPes = -19.25 cmH$_2$O')

box(1102, 328, 1290, 377)
txt(1111, 343, 'ΔPdi = 15.08 mH$_2$O')
txt(1111, 363, 'Pdi max = 23.63 cmH$_2$O')
box(1131, 549, 1269, 597)
txt(1139, 563, 'Pgas = 6.2 cmH$_2$O')
txt(1139, 584, 'Pgas/Pes = -0,82')

txt(1211, 885, '1s', 10.5, ha='center')
arrow((1192, 897), (1232, 897), color='black', style='<|-|>', lw=1.5, ms=8)

# ---- panel frames ----
for x0, x1 in [(9, 643), (647, 1300)]:
    for y0, y1 in [(13, 316), (321, 621), (625, 940)]:
        fig.add_artist(Rectangle(pt(x0, y1), (x1 - x0) / W, (y1 - y0) / H, transform=fig.transFigure,
                                 fc='none', ec='#1c1c1c', lw=2.3, zorder=6))

fig.savefig('out.png', dpi=100, facecolor='white')
